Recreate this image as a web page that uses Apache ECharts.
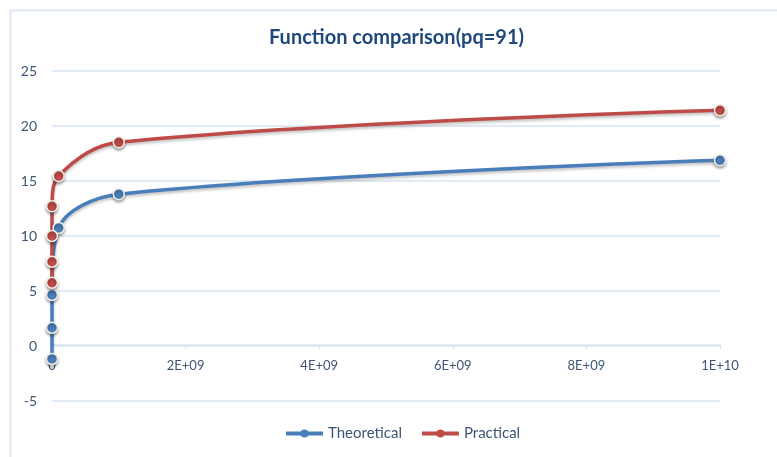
<!DOCTYPE html>
<html>
<head>
<meta charset="utf-8">
<script src="https://cdn.jsdelivr.net/npm/echarts@6/dist/echarts.min.js"></script>
<style>html,body{margin:0;padding:0;background:#fff}#c{width:777px;height:457px}</style>
</head>
<body>
<div id="c"></div>
<script>
const titleText = 'Function comparison(pq=91)';
const seriesNames = ['Theoretical', 'Practical'];
const theoreticalX = [1, 100, 10000, 1e8, 1e9, 1e10];
const theoreticalY = [-1.18, 1.66, 4.64, 10.73, 13.8, 16.88];
const practicalX = [1, 100, 10000, 1000000, 1e8, 1e9, 1e10];
const practicalY = [5.75, 7.66, 10.0, 12.7, 15.45, 18.52, 21.43];
const yTicks = [-5, 0, 5, 10, 15, 20, 25];
const xTickLabels = ['0', '2E+09', '4E+09', '6E+09', '8E+09', '1E+10'];

const pair = (xs, ys) => xs.map((x, i) => [x, ys[i]]);
const font = 'Lato, "Open Sans", sans-serif';
const labelColor = '#3e5577';
const gridColor = '#d9e4f2';

function mkSeries(name, data, color) {
  return {
    name, type: 'line', data,
    smooth: 0.35,
    symbol: 'circle', symbolSize: 11,
    lineStyle: { color, width: 3.5, shadowColor: 'rgba(0,0,0,0.25)', shadowBlur: 3, shadowOffsetY: 2 },
    itemStyle: { color, borderColor: '#f3f0e8', borderWidth: 1.5, shadowColor: 'rgba(0,0,0,0.35)', shadowBlur: 3, shadowOffsetY: 2 },
    emphasis: { disabled: true }
  };
}

const chart = echarts.init(document.getElementById('c'), null, { renderer: 'canvas' });
chart.setOption({
  animation: false,
  backgroundColor: '#ffffff',
  title: {
    text: titleText, left: 264, top: 23,
    textStyle: { fontFamily: font, fontSize: 20, fontWeight: 'bold', color: '#1f497d' }
  },
  graphic: [{
    type: 'rect', left: 8, top: 8, shape: { width: 900, height: 600 },
    style: { fill: 'none', stroke: '#d6e3f3', lineWidth: 1.5 }, silent: true
  }],
  legend: {
    bottom: 11, left: 279, itemWidth: 37, itemHeight: 10, itemGap: 18,
    lineStyle: { width: 4 },
    itemStyle: { borderWidth: 0 },
    textStyle: { fontFamily: font, fontSize: 15, color: labelColor },
    data: seriesNames
  },
  grid: { left: 52, right: 57, top: 71, bottom: 56, containLabel: false },
  xAxis: {
    type: 'value', min: 0, max: 1e10, interval: 2e9,
    offset: -56,
    axisLine: { show: true, onZero: false, lineStyle: { color: gridColor, width: 1.5 } },
    axisTick: { show: true, length: 4, lineStyle: { color: gridColor } },
    splitLine: { show: false },
    axisLabel: {
      margin: 14, fontFamily: font, fontSize: 13, color: labelColor,
      formatter: (v) => xTickLabels[Math.round(v / 2e9)]
    }
  },
  yAxis: {
    type: 'value', min: yTicks[0], max: yTicks[yTicks.length - 1], interval: 5,
    axisLine: { show: false, onZero: false }, axisTick: { show: false },
    splitLine: { lineStyle: { color: gridColor, width: 1.5 } },
    axisLabel: { margin: 15, fontFamily: font, fontSize: 14, color: labelColor }
  },
  series: [
    mkSeries(seriesNames[0], pair(theoreticalX, theoreticalY), '#4a7ebb'),
    mkSeries(seriesNames[1], pair(practicalX, practicalY), '#be4b48')
  ]
});
</script>
</body>
</html>
